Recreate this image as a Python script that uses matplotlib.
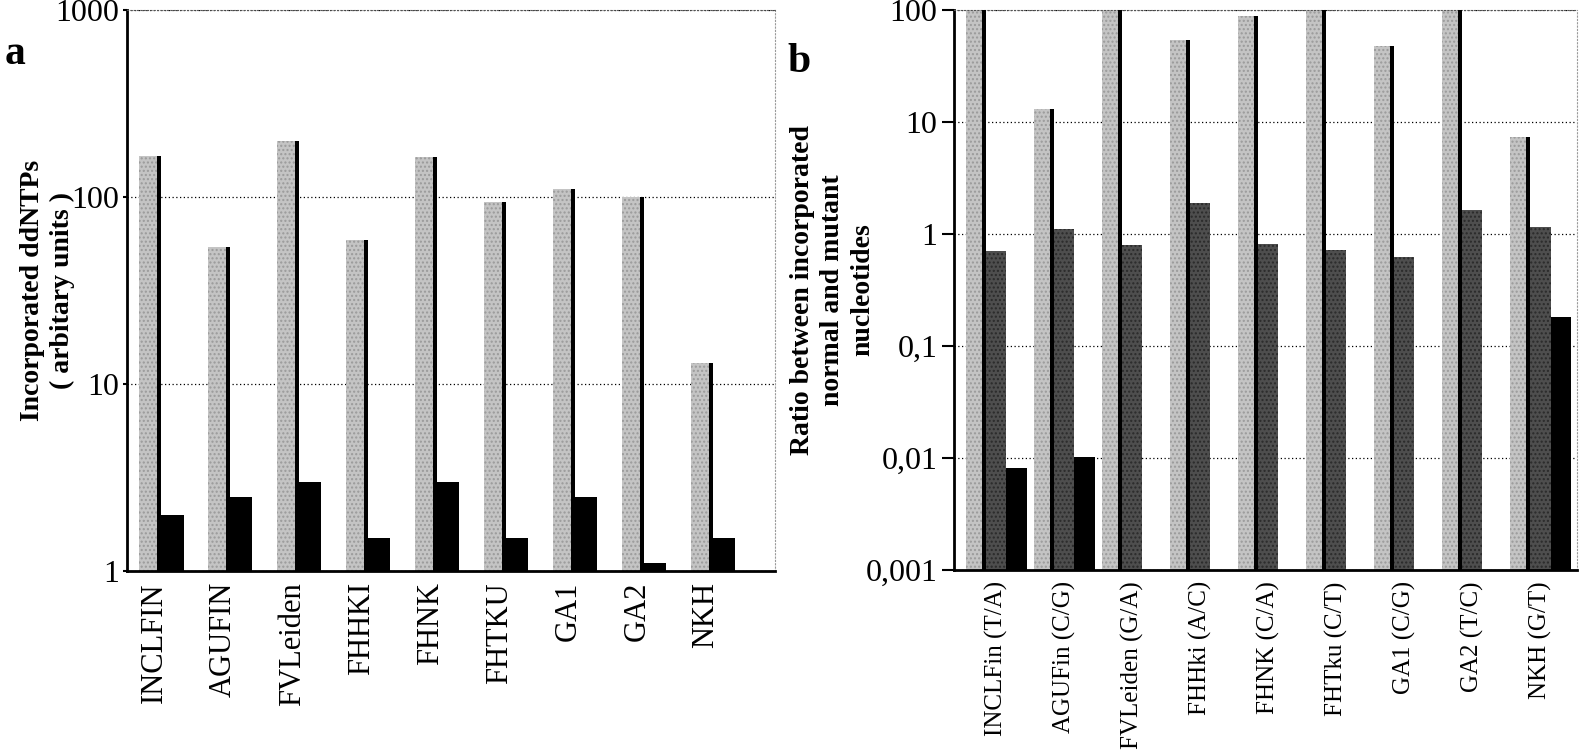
import numpy as np
import matplotlib
matplotlib.use("Agg")
import matplotlib.pyplot as plt

plt.rcParams['font.family'] = ['Liberation Serif', 'DejaVu Serif']

# panel a data
labels_a = ["INCLFIN", "AGUFIN", "FVLeiden", "FHHKI", "FHNK", "FHTKU", "GA1", "GA2", "NKH"]
normal_a = [165, 54, 200, 59, 163, 94, 110, 100, 13]
mutant_a = [2.0, 2.5, 3.0, 1.5, 3.0, 1.5, 2.5, 1.1, 1.5]

# panel b data
labels_b = ["INCLFin (T/A)", "AGUFin (C/G)", "FVLeiden (G/A)", "FHHki (A/C)", "FHNK (C/A)",
            "FHTku (C/T)", "GA1 (C/G)", "GA2 (T/C)", "NKH (G/T)"]
light_b = [100, 13, 100, 54, 88, 100, 48, 100, 7.3]
dark_b = [0.7, 1.1, 0.8, 1.9, 0.82, 0.72, 0.62, 1.65, 1.15]
black_b = [0.0082, 0.0102, np.nan, np.nan, np.nan, np.nan, np.nan, np.nan, 0.18]
yticks_b = [0.001, 0.01, 0.1, 1, 10, 100]
yticklabels_b = ["0,001", "0,01", "0,1", "1", "10", "100"]

LIGHT = "#c4c4c4"
DARK = "#4e4e4e"


def style_axis(ax, xsize):
    ax.spines['top'].set_linestyle((0, (1, 2)))
    ax.spines['top'].set_color("#555555")
    ax.spines['right'].set_linestyle((0, (1, 2)))
    ax.spines['right'].set_color("#999999")
    ax.spines['left'].set_linewidth(2)
    ax.spines['bottom'].set_linewidth(2)
    ax.yaxis.grid(True, which='major', color='black', linestyle=(0, (1, 2)), linewidth=0.9)
    ax.set_axisbelow(True)
    ax.tick_params(axis='x', length=0, pad=8, labelsize=xsize)
    ax.tick_params(axis='y', which='minor', length=0)
    ax.tick_params(axis='y', which='major', labelsize=23, width=1.5)


fig = plt.figure(figsize=(15.84, 7.55), dpi=100)

# ---- panel a ----
ax1 = fig.add_axes([0.0802, 0.2437, 0.409, 0.743])
x = np.arange(len(labels_a))
w = 0.32
base_a = 1
h_light = np.array(normal_a) - base_a
ax1.bar(x - w / 2, h_light, w, bottom=base_a, color=LIGHT, hatch='....',
        edgecolor='#9a9a9a', linewidth=0, zorder=2)
ax1.bar(x - 0.03, h_light, 0.06, bottom=base_a, color='black', zorder=3)
ax1.bar(x + w / 2, np.array(mutant_a) - base_a, w, bottom=base_a, color='black', zorder=2)
ax1.set_yscale('log')
ax1.set_ylim(1, 1000)
ax1.set_xlim(-0.5, 8.9)
ax1.set_yticks([1, 10, 100, 1000])
ax1.set_yticklabels(["1", "10", "100", "1000"])
ax1.set_xticks(x - 0.1)
ax1.set_xticklabels(labels_a, rotation=90)
style_axis(ax1, 22)
ax1.tick_params(axis='y', which='major', length=3, pad=3)
ax1.set_ylabel("Incorporated ddNTPs\n( arbitary units )", fontsize=20, fontweight='bold',
               linespacing=1.25)
ax1.yaxis.set_label_coords(-0.08, 0.5)
fig.text(0.003, 0.915, "a", fontsize=30, fontweight='bold')

# ---- panel b ----
ax2 = fig.add_axes([0.6023, 0.245, 0.3933, 0.7417])
x = np.arange(len(labels_b))
w = 0.3
base_b = 0.001
h_light = np.array(light_b) - base_b
ax2.bar(x - w, h_light, w, bottom=base_b, color=LIGHT, hatch='....',
        edgecolor='#9a9a9a', linewidth=0, zorder=2)
ax2.bar(x - w / 2 - 0.03, h_light, 0.06, bottom=base_b, color='black', zorder=3)
ax2.bar(x, np.array(dark_b) - base_b, w, bottom=base_b, color=DARK, hatch='....',
        edgecolor='#2a2a2a', linewidth=0, zorder=2)
ax2.bar(x + w, np.array(black_b) - base_b, w, bottom=base_b, color='black', zorder=2)
ax2.set_yscale('log')
ax2.set_ylim(0.001, 100)
ax2.set_xlim(-0.62, 8.54)
ax2.set_yticks(yticks_b)
ax2.set_yticklabels(yticklabels_b)
ax2.set_xticks(x)
ax2.set_xticklabels(labels_b, rotation=90)
style_axis(ax2, 18)
ax2.tick_params(axis='y', which='major', length=9, pad=3)
ax2.set_ylabel("Ratio between incorporated\nnormal and mutant\nnucleotides", fontsize=20,
               fontweight='bold', linespacing=1.25)
ax2.yaxis.set_label_coords(-0.127, 0.5)
fig.text(0.497, 0.905, "b", fontsize=30, fontweight='bold')

fig.savefig("out.png", dpi=100)
